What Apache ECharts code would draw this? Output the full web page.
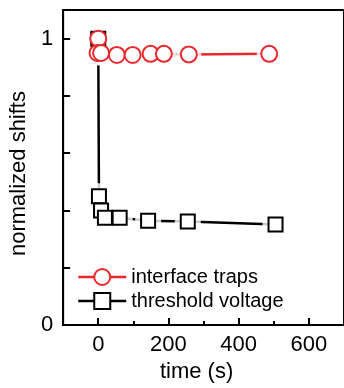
<!DOCTYPE html>
<html>
<head>
<meta charset="utf-8">
<script src="https://cdn.jsdelivr.net/npm/echarts@6/dist/echarts.min.js"></script>
<style>
  html, body { margin: 0; padding: 0; background: #fff; }
  #chart { width: 344px; height: 388px; }
</style>
</head>
<body>
<div id="chart"></div>
<script>
// values
const trapTimes = [0, -2, 8, 53, 98, 149, 187, 258, 487];
const trapShifts = [1.0, 0.95, 0.95, 0.943, 0.943, 0.947, 0.947, 0.945, 0.947];
const vthTimes = [0, 2, 8, 19, 61, 142, 255, 505];
const vthShifts = [1.0, 0.45, 0.40, 0.375, 0.375, 0.364, 0.362, 0.351];

const xLabelValues = [0, 200, 400, 600];
const xMinorValues = [100, 300, 500];
const yTickValues = [0, 0.2, 0.4, 0.6, 0.8, 1.0];
const yLabelValues = [0, 1];

const RED = '#e8282d';
const FONT = 'Liberation Sans, Arial, sans-serif';

const trapData = trapTimes.map((t, i) => [t, trapShifts[i]]);
const vthData = vthTimes.map((t, i) => [t, vthShifts[i]]);

const chart = echarts.init(document.getElementById('chart'));

// lines go under a white halo so they stop short of the markers
const lineSeries = (data, color) => ({
  type: 'line',
  data,
  symbol: 'none',
  silent: true,
  z: 2,
  lineStyle: { color, width: 2.5 },
});

const haloSeries = (data, symbol, size) => ({
  type: 'scatter',
  data,
  symbol,
  symbolSize: size,
  silent: true,
  z: 3,
  itemStyle: { color: '#fff' },
});

const markerSeries = (name, data, symbol, size, color, z) => ({
  name,
  type: 'line',
  data,
  symbol,
  symbolSize: size,
  z,
  lineStyle: { opacity: 0 },
  itemStyle: { color: '#fff', borderColor: color, borderWidth: 2 },
});

chart.setOption({
  animation: false,
  textStyle: { fontFamily: FONT },
  grid: {
    left: 61,
    top: 10,
    right: -5,
    bottom: 61,
    show: true,
    borderColor: '#000',
    borderWidth: 2,
  },
  legend: {
    orient: 'vertical',
    left: 77,
    top: 267,
    padding: 0,
    itemWidth: 48,
    itemHeight: 20,
    itemGap: 4,
    textStyle: { fontSize: 20, color: '#000', fontFamily: FONT },
    data: [
      { name: 'interface traps', lineStyle: { color: RED, width: 2.5, opacity: 1 } },
      { name: 'threshold voltage', lineStyle: { color: '#000', width: 2.5, opacity: 1 } },
    ],
  },
  xAxis: [
    {
      type: 'value',
      min: -100,
      max: 700,
      name: 'time (s)',
      nameLocation: 'middle',
      nameGap: 33,
      nameTextStyle: { fontSize: 22, color: '#000', padding: [0, 14, 0, 0] },
      axisLine: { onZero: false, lineStyle: { color: '#000', width: 2 } },
      axisTick: { inside: true, length: 7, customValues: xLabelValues, lineStyle: { color: '#000', width: 2 } },
      axisLabel: { customValues: xLabelValues, fontSize: 22, color: '#000', margin: 9 },
      splitLine: { show: false },
    },
    {
      type: 'value',
      position: 'bottom',
      min: -100,
      max: 700,
      axisLine: { show: false, onZero: false },
      axisTick: { inside: true, length: 4, customValues: xMinorValues, lineStyle: { color: '#000', width: 2 } },
      axisLabel: { show: false },
      splitLine: { show: false },
    },
  ],
  yAxis: {
    type: 'value',
    min: 0,
    max: 1.1,
    name: 'normalized shifts',
    nameLocation: 'middle',
    nameGap: 31,
    nameTextStyle: { fontSize: 22, color: '#000', padding: [0, 12, 0, 0] },
    axisLine: { onZero: false, lineStyle: { color: '#000', width: 2 } },
    axisTick: { inside: true, length: 7, customValues: yTickValues, lineStyle: { color: '#000', width: 2 } },
    axisLabel: { customValues: yLabelValues, fontSize: 22, color: '#000', margin: 10 },
    splitLine: { show: false },
  },
  series: [
    lineSeries(vthData, '#000'),
    lineSeries(trapData, RED),
    haloSeries(vthData, 'rect', 26),
    haloSeries(trapData, 'circle', 25),
    markerSeries('threshold voltage', vthData, 'rect', 14, '#000', 4),
    markerSeries('interface traps', trapData, 'circle', 16, RED, 5),
  ],
});
</script>
</body>
</html>
